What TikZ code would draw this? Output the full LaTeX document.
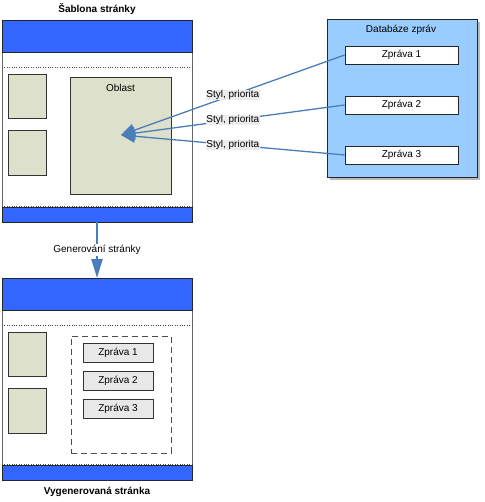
\documentclass[tikz,border=0pt]{standalone}
\usepackage{fontspec}
\setmainfont{Liberation Sans}
\usepackage{xcolor}
\definecolor{pgblue}{RGB}{51,102,255}
\definecolor{pgsage}{RGB}{221,224,203}
\definecolor{dbblue}{RGB}{153,204,255}
\definecolor{linkblue}{RGB}{74,126,187}
\definecolor{tagbg}{RGB}{236,236,236}
\definecolor{msggray}{RGB}{232,232,232}
\usetikzlibrary{arrows.meta,positioning,shadows}

\tikzset{
  pagebox/.style={draw=gray!80!black,fill=white,line width=0.9pt,inner sep=0pt,outer sep=0pt,
    minimum width=190pt,minimum height=202pt,anchor=north west,
    drop shadow={shadow xshift=1pt,shadow yshift=-1pt,fill=gray!60,opacity=1}},
  band/.style={draw=black!85,fill=pgblue,line width=0.8pt},
  sagebox/.style={draw=black!80,fill=pgsage,line width=0.7pt,inner sep=0pt,outer sep=0pt,anchor=north west,
    drop shadow={shadow xshift=1pt,shadow yshift=-1pt,fill=gray!60,opacity=1}},
  dbbox/.style={draw=black!85,fill=dbblue,line width=0.8pt,inner sep=0pt,outer sep=0pt,anchor=north west,
    drop shadow={shadow xshift=3pt,shadow yshift=-3pt,fill=gray!55,opacity=1}},
  msgbox/.style={draw=black!85,fill=white,line width=0.7pt,minimum width=113pt,minimum height=18pt,inner sep=0pt,
    drop shadow={shadow xshift=1pt,shadow yshift=-1pt,fill=gray!60,opacity=1}},
  genmsg/.style={draw=gray!40!black,fill=msggray,line width=0.8pt,minimum width=70pt,minimum height=19pt,inner sep=0pt},
  link/.style={linkblue,line width=1.3pt,-{Triangle[length=14pt,width=13pt]}},
  tag/.style={fill=tagbg,text=black,inner sep=0.8pt},
  genarrow/.style={linkblue,line width=2.4pt,-{Triangle[length=19pt,width=11pt]}},
  ttl/.style={font=\fontsize{10}{12}\selectfont\bfseries}
}

\begin{document}
\begin{tikzpicture}[x=1pt,y=-1pt,font=\fontsize{10}{12}\selectfont]
  \useasboundingbox (0,0) rectangle (484,502);

  % the two pages (template and generated)
  \foreach \pg/\dy in {t/0, b/258}{
    \node[pagebox] (page-\pg) at (2,20+\dy) {};
    \draw[band] (2,20+\dy) rectangle (192,52+\dy);
    \draw[band] (2,207+\dy) rectangle (192,222+\dy);
    \draw[dotted,black!70] (2,67+\dy) -- (192,67+\dy);
    \draw[dotted,black!70] (2,206+\dy) -- (192,206+\dy);
    \node[sagebox,minimum width=38pt,minimum height=44pt] (side1-\pg) at (8,74+\dy) {};
    \node[sagebox,minimum width=38pt,minimum height=45pt] (side2-\pg) at (8,130+\dy) {};
  }
  \node[ttl] (ttl-t) at (97,9) {Šablona stránky};
  \node[ttl] (ttl-b) at (97,492) {Vygenerovaná stránka};

  % region in the template
  \node[sagebox,minimum width=101pt,minimum height=117pt,
        label={[anchor=north,yshift=-4pt]north:Oblast}] (area) at (70,77) {};
  \coordinate (hit) at (121,135);

  % message database
  \node[dbbox,minimum width=150pt,minimum height=158pt] (db) at (327,19) {};
  \node (db-title) at (401,30) {Databáze zpráv};
  \foreach \i/\y in {1/55, 2/105, 3/155}
    \node[msgbox] (msg\i) at (401.5,\y) {Zpráva \i};

  \foreach \i in {1,2,3}
    \draw[link] (msg\i.west) -- node[tag,pos=0.5] {Styl, priorita} (hit);

  % generation step
  \draw[genarrow] (page-t.south) -- node[fill=white,text=black,inner sep=1pt] {Generování stránky} (page-b.north);

  % generated region with the messages
  \node[draw=black!70,dashed,dash pattern=on 6pt off 4pt,line width=0.9pt,inner sep=0pt,
        minimum width=100pt,minimum height=117pt,anchor=north west] (genarea) at (71,336) {};
  \foreach \i/\y in {1/352.5, 2/381, 3/409}
    \node[genmsg] (gmsg\i) at (118,\y) {Zpráva \i};
\end{tikzpicture}
\end{document}
